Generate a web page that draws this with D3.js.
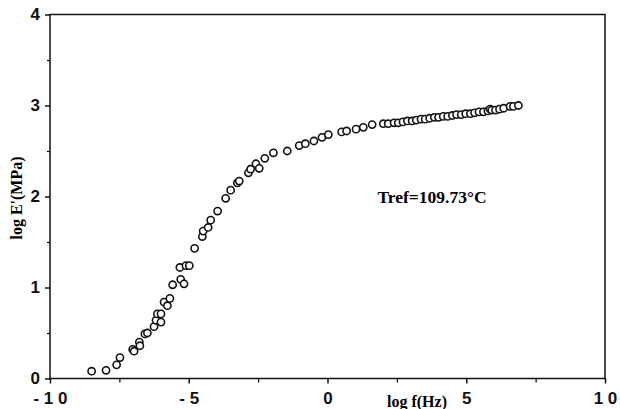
<!DOCTYPE html>
<html>
<head>
<meta charset="utf-8">
<script src="https://cdn.jsdelivr.net/npm/d3@7"></script>
<style>
  body { margin: 0; background: #fff; }
  .tick text { font-family: "Liberation Sans", Arial, sans-serif; font-weight: bold; font-size: 17px; }
  .lab { font-family: "Liberation Serif", "Times New Roman", serif; font-weight: bold; font-size: 16px; }
</style>
</head>
<body>
<div id="chart"></div>
<script>
// log f (Hz)
const logF = [
  -8.50, -7.98, -7.60, -7.48, -7.02, -6.97, -6.78, -6.76, -6.58, -6.49,
  -6.25, -6.18, -6.13, -6.00, -6.00, -5.89, -5.77, -5.68, -5.58, -5.32,
  -5.29, -5.17, -5.10, -4.98, -4.79, -4.51, -4.48, -4.30, -4.21, -3.96,
  -3.67, -3.49, -3.25, -3.18, -2.85, -2.77, -2.58, -2.46, -2.26, -1.95,
  -1.45, -1.02, -0.80, -0.49, -0.20, 0.03, 0.51, 0.69, 1.03, 1.29,
  1.61, 2.01, 2.19, 2.40, 2.55, 2.72, 2.88, 3.05, 3.20, 3.37,
  3.52, 3.68, 3.85, 4.00, 4.17, 4.33, 4.50, 4.65, 4.82, 4.98,
  5.15, 5.30, 5.46, 5.62, 5.78, 5.86, 5.92, 6.05, 6.20, 6.35,
  6.58, 6.70, 6.88
];
// log E' (MPa)
const logE = [
  0.08, 0.09, 0.15, 0.23, 0.32, 0.30, 0.40, 0.36, 0.49, 0.50,
  0.57, 0.64, 0.71, 0.71, 0.62, 0.84, 0.80, 0.88, 1.03, 1.22,
  1.09, 1.04, 1.24, 1.24, 1.43, 1.56, 1.62, 1.66, 1.74, 1.84,
  1.98, 2.07, 2.15, 2.17, 2.26, 2.30, 2.36, 2.31, 2.42, 2.48,
  2.50, 2.56, 2.58, 2.61, 2.65, 2.68, 2.71, 2.72, 2.74, 2.76,
  2.79, 2.80, 2.80, 2.81, 2.81, 2.82, 2.83, 2.83, 2.84, 2.85,
  2.85, 2.86, 2.87, 2.87, 2.88, 2.88, 2.89, 2.90, 2.90, 2.91,
  2.91, 2.92, 2.93, 2.93, 2.94, 2.96, 2.95, 2.95, 2.96, 2.97,
  2.99, 2.99, 3.00
];
const xTicks = [-10, -5, 0, 5, 10];
const yTicks = [0, 1, 2, 3, 4];
const xMinor = [-7.5, -2.5, 2.5, 7.5];
const yMinor = [0.5, 1.5, 2.5, 3.5];
const tref = "Tref=109.73°C";

const width = 620, height = 409;
const mLeft = 50, mRight = 605, mTop = 14.5, mBottom = 378.5;

const x = d3.scaleLinear().domain([-10, 10]).range([mLeft, mRight]);
const y = d3.scaleLinear().domain([0, 4]).range([mBottom, mTop]);

const svg = d3.select("#chart").append("svg")
  .attr("width", width).attr("height", height);

// frame
svg.append("rect")
  .attr("x", mLeft).attr("y", mTop)
  .attr("width", mRight - mLeft).attr("height", mBottom - mTop)
  .attr("fill", "none").attr("stroke", "#111").attr("stroke-width", 1.5);

// minor ticks
svg.append("g")
  .attr("transform", "translate(0," + mBottom + ")")
  .call(d3.axisBottom(x).tickValues(xMinor).tickSize(4).tickFormat(""))
  .call(g => g.select(".domain").remove())
  .call(g => g.selectAll("line").attr("stroke-width", 1.2));
svg.append("g")
  .attr("transform", "translate(" + mLeft + ",0)")
  .call(d3.axisLeft(y).tickValues(yMinor).tickSize(3).tickFormat(""))
  .call(g => g.select(".domain").remove())
  .call(g => g.selectAll("line").attr("stroke-width", 1.2));

// major ticks
svg.append("g")
  .attr("transform", "translate(0," + mBottom + ")")
  .call(d3.axisBottom(x).tickValues(xTicks).tickSize(5).tickPadding(8)
    .tickFormat(d => String(d).replace("-", "- ").replace("10", "1 0")))
  .call(g => g.select(".domain").remove())
  .call(g => g.selectAll("line").attr("stroke-width", 1.4))
  .call(g => g.selectAll("text").attr("fill", "#111").attr("style", "white-space:pre"));
svg.append("g")
  .attr("transform", "translate(" + mLeft + ",0)")
  .call(d3.axisLeft(y).tickValues(yTicks).tickSize(5).tickPadding(5).tickFormat(d3.format("d")))
  .call(g => g.select(".domain").remove())
  .call(g => g.selectAll("line").attr("stroke-width", 1.4))
  .call(g => g.selectAll("text").attr("fill", "#111"));

// axis titles
svg.append("text").attr("class", "lab")
  .attr("x", 417).attr("y", 407).attr("text-anchor", "middle")
  .text("log f(Hz)");
svg.append("text").attr("class", "lab")
  .attr("transform", "translate(22,198) rotate(-90)")
  .attr("text-anchor", "middle")
  .text("log E'(MPa)");

// annotation
svg.append("text").attr("class", "lab")
  .attr("x", 432).attr("y", 203).attr("text-anchor", "middle")
  .style("font-size", "17.5px")
  .text(tref);

// points
svg.append("g").selectAll("circle")
  .data(logF.map((f, i) => ({ f: f, e: logE[i] })))
  .enter().append("circle")
  .attr("cx", d => x(d.f))
  .attr("cy", d => y(d.e))
  .attr("r", 3.6)
  .attr("fill", "#fff")
  .attr("stroke", "#111")
  .attr("stroke-width", 1.6);
</script>
</body>
</html>
